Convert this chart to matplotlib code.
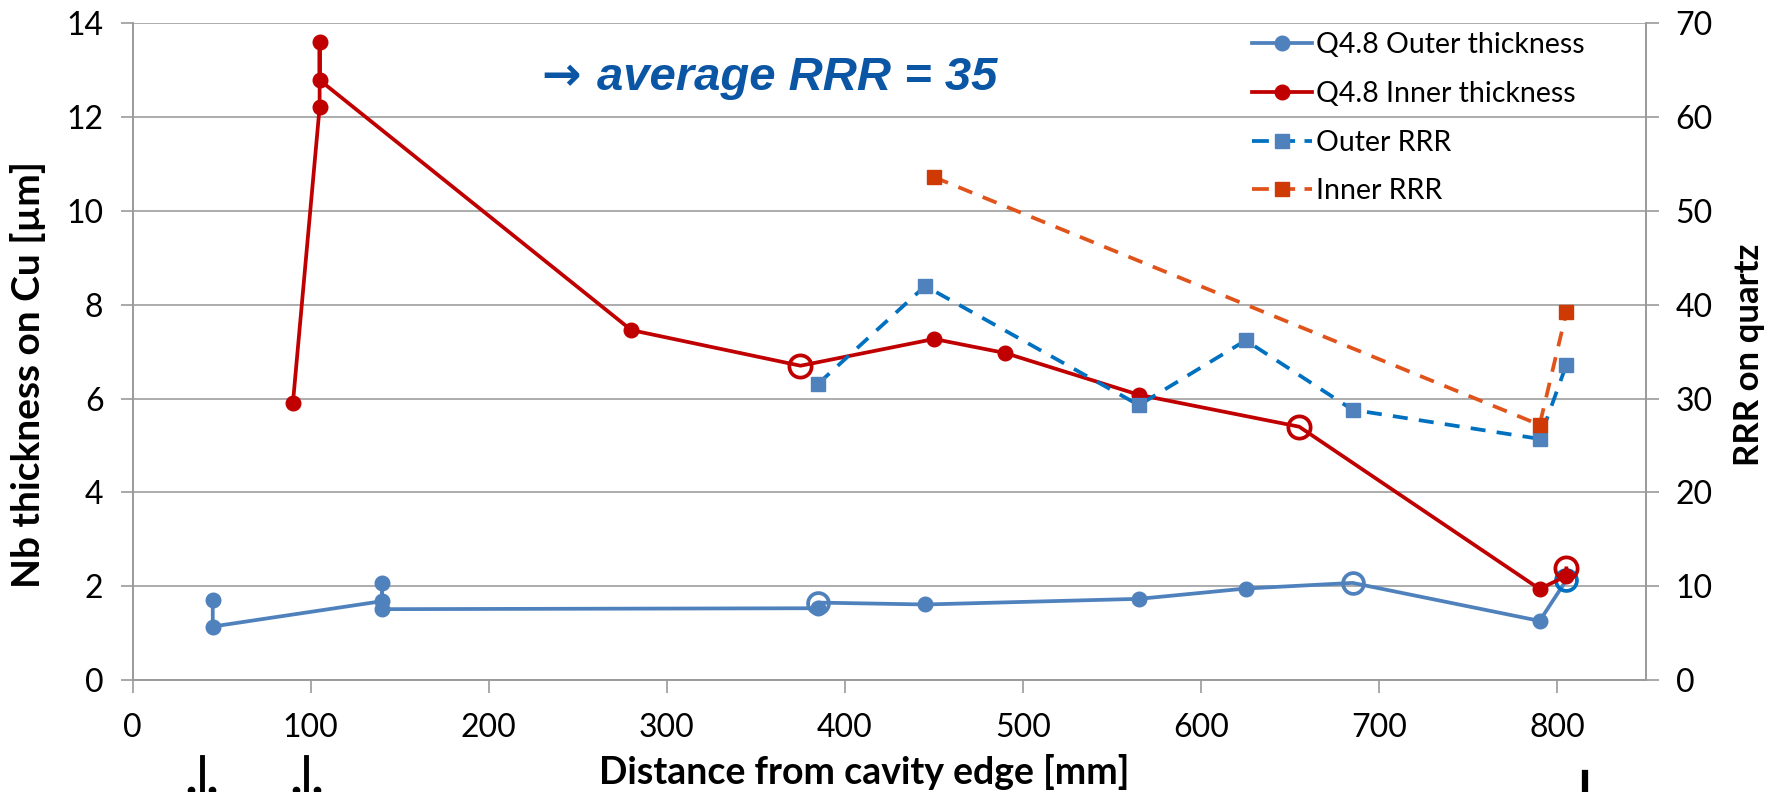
import matplotlib
matplotlib.use("Agg")
import matplotlib.pyplot as plt
from matplotlib.lines import Line2D

# ---- data -------------------------------------------------------------
# Nb film thickness on Cu (um) along the cavity, outer side
outer_x = [45, 45, 140, 140, 140, 385, 385, 445, 565, 625, 685, 790, 805]
outer_thk = [1.70, 1.14, 1.68, 2.07, 1.51, 1.53, 1.65, 1.61, 1.73, 1.95, 2.07, 1.26, 2.13]
outer_hollow = [False, False, False, False, False, False, True, False, False, False, True, False, True]

# Nb film thickness on Cu (um), inner side
inner_x = [90, 105, 105, 105, 280, 375, 450, 490, 565, 655, 790, 805, 805]
inner_thk = [5.90, 12.21, 13.61, 12.79, 7.46, 6.70, 7.27, 6.97, 6.08, 5.40, 1.94, 2.22, 2.38]
inner_hollow = [False, False, False, False, False, True, False, False, False, True, False, False, True]

# RRR measured on quartz samples
outer_rrr_x = [385, 445, 565, 625, 685, 790, 805]
outer_rrr = [31.6, 42.0, 29.3, 36.2, 28.8, 25.7, 33.6]
inner_rrr_x = [450, 790, 805]
inner_rrr = [53.6, 27.2, 39.2]

x_ticks = [0, 100, 200, 300, 400, 500, 600, 700, 800]
y_ticks = [0, 2, 4, 6, 8, 10, 12, 14]
rrr_ticks = [0, 10, 20, 30, 40, 50, 60, 70]

series_names = ["Q4.8 Outer thickness", "Q4.8 Inner thickness", "Outer RRR", "Inner RRR"]
note_arrow = "\u2192"
note = "average RRR = 35"

# ---- style ------------------------------------------------------------
BLUE = "#4F81BD"
BLUE_BRIGHT = "#0070C0"
RED = "#C00000"
ORANGE_LINE = "#E0541C"
ORANGE_MARK = "#CF3A04"
NOTE = "#0B56A4"
GRID = "#A6A6A6"
SPINE = "#9A9A9A"
FONT = ["Lato", "DejaVu Sans"]

plt.rcParams["font.family"] = FONT

W, H = 1781, 792
fig = plt.figure(figsize=(W / 100, H / 100), dpi=100)
ax = fig.add_axes([132.6 / W, 1 - 680 / H, (1646.5 - 132.6) / W, (680 - 23.3) / H])
ax2 = ax.twinx()

ax.set_xlim(0, 850)
ax.set_ylim(0, 14)
ax2.set_ylim(0, 70)
ax.set_xticks(x_ticks)
ax.set_yticks(y_ticks)
ax2.set_yticks(rrr_ticks)

ax.grid(axis="y", color=GRID, lw=1.3)
ax.set_axisbelow(True)
for a in (ax, ax2):
    for side, sp in a.spines.items():
        sp.set_color(SPINE)
        sp.set_linewidth(1.2)
    a.spines["top"].set_visible(False)
ax.tick_params(axis="both", length=9, width=1.2, color=SPINE, labelsize=23, labelcolor="black")
ax.tick_params(axis="y", pad=12)
ax.tick_params(axis="x", pad=15)
ax2.tick_params(axis="y", length=9, width=1.2, color=SPINE, labelsize=23, labelcolor="black", pad=12)

# thickness lines (left axis)
lw = 2.7
ax.plot(outer_x, outer_thk, color=BLUE, lw=lw, zorder=3)
ax.plot(inner_x, inner_thk, color=RED, lw=lw, zorder=4)

def split(xs, ys, flags):
    filled = [(x, y) for x, y, f in zip(xs, ys, flags) if not f]
    hollow = [(x, y) for x, y, f in zip(xs, ys, flags) if f]
    return list(zip(*filled)), list(zip(*hollow))

(ofx, ofy), (ohx, ohy) = split(outer_x, outer_thk, outer_hollow)
(ifx, ify), (ihx, ihy) = split(inner_x, inner_thk, inner_hollow)

ax.plot(ofx, ofy, ls="none", marker="o", ms=10.5, color=BLUE, zorder=3)
ax.plot(ohx[:-1], ohy[:-1], ls="none", marker="o", ms=15, mfc="none", mec=BLUE, mew=2.7, zorder=3)
ax.plot(ohx[-1:], ohy[-1:], ls="none", marker="o", ms=15, mfc="none", mec=BLUE_BRIGHT, mew=2.7, zorder=3)
ax.plot(ifx, ify, ls="none", marker="o", ms=10.5, color=RED, zorder=5)
ax.plot(ihx, ihy, ls="none", marker="o", ms=16, mfc="none", mec=RED, mew=2.7, zorder=5)

# RRR lines (right axis)
ax2.plot(outer_rrr_x, outer_rrr, color=BLUE_BRIGHT, lw=2.7, dashes=(4, 3), zorder=2)
ax2.plot(outer_rrr_x, outer_rrr, ls="none", marker="s", ms=10.5, color=BLUE, zorder=2)
ax2.plot(inner_rrr_x, inner_rrr, color=ORANGE_LINE, lw=2.7, dashes=(4, 3), zorder=2)
ax2.plot(inner_rrr_x, inner_rrr, ls="none", marker="s", ms=10.5, color=ORANGE_MARK, zorder=2)

# legend
handles = [
    Line2D([], [], color=BLUE, lw=lw, marker="o", ms=10.5),
    Line2D([], [], color=RED, lw=lw, marker="o", ms=10.5),
    Line2D([], [], color=BLUE_BRIGHT, lw=2.7, dashes=(4.5, 2.5), marker="s", ms=10.5, mfc=BLUE, mec=BLUE),
    Line2D([], [], color=ORANGE_LINE, lw=2.7, dashes=(4.5, 2.5), marker="s", ms=10.5, mfc=ORANGE_MARK, mec=ORANGE_MARK),
]
leg = ax2.legend(handles, series_names, loc="upper left", bbox_to_anchor=(1252 / W, 1 - 32 / H),
                 bbox_transform=fig.transFigure, frameon=False, fontsize=20.5, numpoints=1,
                 handlelength=2.1, handletextpad=0.15, labelspacing=0.8, borderpad=0, borderaxespad=0)

# annotation
fig.text(541 / W, 1 - 90 / H, note_arrow, color=NOTE, fontsize=34, fontweight="bold",
         family=["DejaVu Sans"], ha="left", va="baseline")
fig.text(597 / W, 1 - 90 / H, note, color=NOTE, fontsize=34, fontweight="bold",
         fontstyle="italic", family=["Liberation Sans", "DejaVu Sans"], ha="left", va="baseline")

# axis titles
fig.text(864 / W, 1 - 772 / H, "Distance from cavity edge [mm]", fontsize=27, fontweight="bold",
         ha="center", va="center")
fig.text(28 / W, 1 - 374 / H, "Nb thickness on Cu [\u00b5m]", fontsize=28, fontweight="bold",
         rotation=90, ha="center", va="center")
fig.text(1749 / W, 1 - 355 / H, "RRR on quartz", fontsize=25, fontweight="bold",
         rotation=90, ha="center", va="center")

# fragments of symbols below the chart
for bx, top in ((202, 757), (306, 757), (1585, 773)):
    fig.add_artist(Line2D([bx / W, bx / W], [0, 1 - top / H], color="black", lw=4.5 if bx > 1000 else 3.5,
                          transform=fig.transFigure))
for dx in (191, 212, 296, 317):
    fig.add_artist(Line2D([dx / W], [1 - 790 / H], ls="none", marker="o", ms=4.5, color="black",
                          transform=fig.transFigure))

fig.savefig("out.png", dpi=100)
